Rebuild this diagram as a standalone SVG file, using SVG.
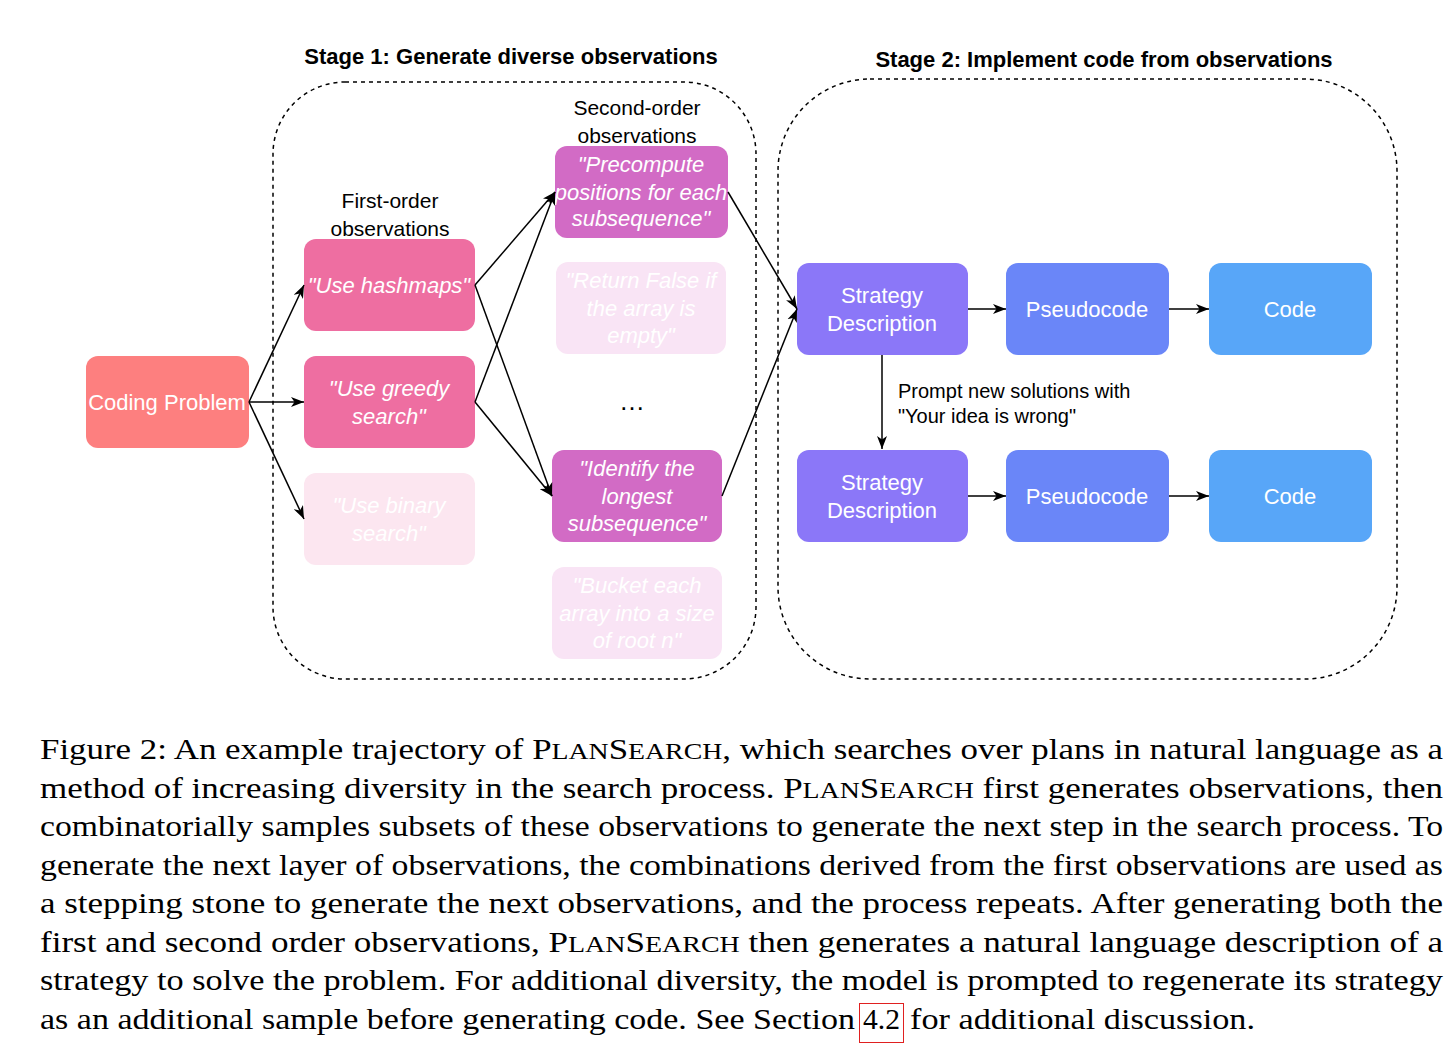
<svg xmlns="http://www.w3.org/2000/svg" width="1456" height="1049" viewBox="0 0 1456 1049">
<defs>
<marker id="arr" markerUnits="userSpaceOnUse" markerWidth="14" markerHeight="11" refX="13" refY="5.5" orient="auto">
<path d="M0,0.5 L13,5.5 L0,10.5 L3.5,5.5 z" fill="#000"/>
</marker>
<style>
.cont{fill:none;stroke:#000;stroke-width:1.5;stroke-dasharray:4 4}
.title{font-family:"Liberation Sans",Arial,sans-serif;font-size:22px;font-weight:bold;fill:#000;text-anchor:middle}
.lbl{font-family:"Liberation Sans",Arial,sans-serif;font-size:21px;fill:#000;text-anchor:middle}
.nt{font-family:"Liberation Sans",Arial,sans-serif;font-size:22px;fill:#fff;text-anchor:middle}
.it{font-style:italic}
.cap{font-family:"Liberation Serif","Times New Roman",serif;font-size:29.5px;fill:#000}
.sc{font-size:23.5px}
.conn line{stroke:#000;stroke-width:1.5;marker-end:url(#arr)}
</style>
</defs>
<rect width="1456" height="1049" fill="#fff"/>

<g id="stage1">
<rect class="cont" x="273" y="82" width="483" height="597" rx="72"/>
<text class="title" x="511" y="64">Stage 1: Generate diverse observations</text>
<text class="lbl" x="390" y="208">First-order</text>
<text class="lbl" x="390" y="236">observations</text>
<text class="lbl" x="637" y="115">Second-order</text>
<text class="lbl" x="637" y="143">observations</text>
</g>
<g id="stage2">
<rect class="cont" x="778" y="79" width="619" height="600" rx="92"/>
<text class="title" x="1104" y="67">Stage 2: Implement code from observations</text>
</g>

<g id="coding-problem">
<rect x="86" y="356" width="163" height="92" rx="12" fill="#FD7F7F"/>
<text class="nt" x="167" y="410">Coding Problem</text>
</g>
<g id="use-hashmaps">
<rect x="304" y="239" width="171" height="92" rx="12" fill="#EE6EA1"/>
<text class="nt it" x="389" y="293">"Use hashmaps"</text>
</g>
<g id="use-greedy">
<rect x="304" y="356" width="171" height="92" rx="12" fill="#EE6EA1"/>
<text class="nt it" x="389" y="396">"Use greedy</text>
<text class="nt it" x="389" y="424">search"</text>
</g>
<g id="use-binary">
<rect x="304" y="473" width="171" height="92" rx="12" fill="#FCE6F0"/>
<text class="nt it" x="389" y="513">"Use binary</text>
<text class="nt it" x="389" y="541">search"</text>
</g>
<g id="precompute">
<rect x="555" y="146" width="173" height="92" rx="12" fill="#D26BC5"/>
<text class="nt it" x="641" y="172">"Precompute</text>
<text class="nt it" x="641" y="200">positions for each</text>
<text class="nt it" x="641" y="226">subsequence"</text>
</g>
<g id="return-false">
<rect x="556" y="262" width="170" height="92" rx="12" fill="#F9E4F5"/>
<text class="nt it" x="641" y="288">"Return False if</text>
<text class="nt it" x="641" y="316">the array is</text>
<text class="nt it" x="641" y="343">empty"</text>
</g>
<g id="ellipsis">
<text class="lbl" x="632" y="410" style="font-size:26px">…</text>
</g>
<g id="identify">
<rect x="552" y="450" width="170" height="92" rx="12" fill="#D26BC5"/>
<text class="nt it" x="637" y="476">"Identify the</text>
<text class="nt it" x="637" y="504">longest</text>
<text class="nt it" x="637" y="531">subsequence"</text>
</g>
<g id="bucket">
<rect x="552" y="567" width="170" height="92" rx="12" fill="#F9E4F5"/>
<text class="nt it" x="637" y="593">"Bucket each</text>
<text class="nt it" x="637" y="621">array into a size</text>
<text class="nt it" x="637" y="648">of root n"</text>
</g>

<g id="strategy1">
<rect x="797" y="263" width="171" height="92" rx="12" fill="#8B77F8"/>
<text class="nt" x="882" y="303">Strategy</text>
<text class="nt" x="882" y="331">Description</text>
</g>
<g id="pseudo1">
<rect x="1006" y="263" width="163" height="92" rx="12" fill="#6A86F8"/>
<text class="nt" x="1087" y="317">Pseudocode</text>
</g>
<g id="code1">
<rect x="1209" y="263" width="163" height="92" rx="12" fill="#58A6F8"/>
<text class="nt" x="1290" y="317">Code</text>
</g>
<g id="strategy2">
<rect x="797" y="450" width="171" height="92" rx="12" fill="#8B77F8"/>
<text class="nt" x="882" y="490">Strategy</text>
<text class="nt" x="882" y="518">Description</text>
</g>
<g id="pseudo2">
<rect x="1006" y="450" width="163" height="92" rx="12" fill="#6A86F8"/>
<text class="nt" x="1087" y="504">Pseudocode</text>
</g>
<g id="code2">
<rect x="1209" y="450" width="163" height="92" rx="12" fill="#58A6F8"/>
<text class="nt" x="1290" y="504">Code</text>
</g>

<g id="connectors" class="conn">
<line x1="249" y1="402" x2="304" y2="285"/>
<line x1="249" y1="402" x2="304" y2="402"/>
<line x1="249" y1="402" x2="304" y2="519"/>
<line x1="475" y1="285" x2="555" y2="192"/>
<line x1="475" y1="285" x2="552" y2="496"/>
<line x1="475" y1="402" x2="555" y2="192"/>
<line x1="475" y1="402" x2="552" y2="496"/>
<line x1="728" y1="192" x2="797" y2="309"/>
<line x1="722" y1="496" x2="797" y2="309"/>
<line x1="968" y1="309" x2="1006" y2="309"/>
<line x1="1169" y1="309" x2="1209" y2="309"/>
<line x1="968" y1="496" x2="1006" y2="496"/>
<line x1="1169" y1="496" x2="1209" y2="496"/>
<line x1="882" y1="355" x2="882" y2="449"/>
<text x="898" y="398" style="font-family:'Liberation Sans',Arial,sans-serif;font-size:20px;fill:#000">Prompt new solutions with</text>
<text x="898" y="423" style="font-family:'Liberation Sans',Arial,sans-serif;font-size:20px;fill:#000">"Your idea is wrong"</text>
</g>

<g id="caption">
<text class="cap" x="40" y="759" textLength="1403" lengthAdjust="spacingAndGlyphs">Figure 2: An example trajectory of P<tspan class="sc">LAN</tspan>S<tspan class="sc">EARCH</tspan>, which searches over plans in natural language as a</text>
<text class="cap" x="40" y="797.5" textLength="1403" lengthAdjust="spacingAndGlyphs">method of increasing diversity in the search process. P<tspan class="sc">LAN</tspan>S<tspan class="sc">EARCH</tspan> first generates observations, then</text>
<text class="cap" x="40" y="836" textLength="1403" lengthAdjust="spacingAndGlyphs">combinatorially samples subsets of these observations to generate the next step in the search process. To</text>
<text class="cap" x="40" y="874.5" textLength="1403" lengthAdjust="spacingAndGlyphs">generate the next layer of observations, the combinations derived from the first observations are used as</text>
<text class="cap" x="40" y="913" textLength="1403" lengthAdjust="spacingAndGlyphs">a stepping stone to generate the next observations, and the process repeats. After generating both the</text>
<text class="cap" x="40" y="951.5" textLength="1403" lengthAdjust="spacingAndGlyphs">first and second order observations, P<tspan class="sc">LAN</tspan>S<tspan class="sc">EARCH</tspan> then generates a natural language description of a</text>
<text class="cap" x="40" y="990" textLength="1403" lengthAdjust="spacingAndGlyphs">strategy to solve the problem. For additional diversity, the model is prompted to regenerate its strategy</text>
<text class="cap" x="40" y="1028.5" textLength="815" lengthAdjust="spacingAndGlyphs">as an additional sample before generating code. See Section</text>
<text class="cap" x="863" y="1028.5" textLength="37" lengthAdjust="spacingAndGlyphs">4.2</text>
<text class="cap" x="910" y="1028.5" textLength="345" lengthAdjust="spacingAndGlyphs">for additional discussion.</text>
<rect x="859.5" y="1003.5" width="44" height="39" fill="none" stroke="#E02020" stroke-width="1"/>
</g>
</svg>
